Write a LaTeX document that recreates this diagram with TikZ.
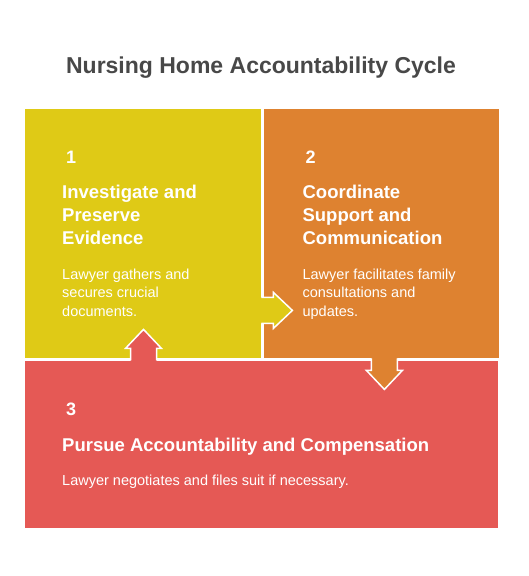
\documentclass[tikz,border=0pt]{standalone}
\usepackage{fontspec}
\setmainfont{Liberation Sans}
\usetikzlibrary{positioning}
\definecolor{yellowc}{HTML}{DFCA16}
\definecolor{orangec}{HTML}{DE8230}
\definecolor{redc}{HTML}{E55955}
\definecolor{titlec}{HTML}{484848}

\begin{document}
\begin{tikzpicture}[x=1pt, y=-1pt,
stepbox/.style = {rectangle, inner sep=0pt, anchor=north west},
numtext/.style = {anchor=base west, inner sep=0pt, text=white, font=\bfseries\fontsize{18}{22}\selectfont},
headtext/.style = {anchor=base west, inner sep=0pt, text=white, align=left, font=\bfseries\fontsize{18.5}{23}\selectfont},
bodytext/.style = {anchor=base west, inner sep=0pt, text=white, align=left, font=\fontsize{14.5}{18.5}\selectfont},
pics/blockarrow/.style = {code={
  \fill[#1] (-4,-13) -- (11,-13) -- (11,-18) -- (30,0) -- (11,18) -- (11,13) -- (-4,13) -- cycle;
  \draw[white, line width=1.5pt] (-1,-13) -- (11,-13) -- (11,-18) -- (30,0) -- (11,18) -- (11,13) -- (-1,13);
}}]
\fill[white] (0,0) rectangle (528,576);
\useasboundingbox (0,0) rectangle (528,576);

\node[anchor=base, text=titlec, font=\bfseries\fontsize{23}{28}\selectfont] (title) at (261,73) {Nursing Home Accountability Cycle};

% the three steps
\node[stepbox, fill=yellowc, minimum width=236, minimum height=249] (1) at (25,109) {};
\node[stepbox, fill=orangec, minimum width=235, minimum height=249, right=2pt of 1] (2) {};
\node[stepbox, fill=redc, minimum width=473, minimum height=167, below=2pt of 1.south west, anchor=north west] (3) {};

% (base of a block of lines = base of its last line)
\node[numtext] (n1) at ([shift={(41,54)}]1.north west) {1};
\node[headtext] (h1) at ([shift={(37,135)}]1.north west) {Investigate and\\Preserve\\Evidence};
\node[bodytext] (b1) at ([shift={(37,207)}]1.north west) {Lawyer gathers and\\secures crucial\\documents.};

\node[numtext] (n2) at ([shift={(42,54)}]2.north west) {2};
\node[headtext] (h2) at ([shift={(39,135)}]2.north west) {Coordinate\\Support and\\Communication};
\node[bodytext] (b2) at ([shift={(39,207)}]2.north west) {Lawyer facilitates family\\consultations and\\updates.};

\node[numtext] (n3) at ([shift={(41,55)}]3.north west) {3};
\node[headtext] (h3) at ([shift={(37,91)}]3.north west) {Pursue Accountability and Compensation};
\node[bodytext] (b3) at ([shift={(37,125)}]3.north west) {Lawyer negotiates and files suit if necessary.};

% arrows between the steps
\coordinate (a12) at ([shift={(1,-48)}]1.south east);
\coordinate (a23) at ([shift={(121,1)}]2.south west);
\coordinate (a31) at ([shift={(118.5,-1)}]3.north west);
\pic at (a12) {blockarrow=yellowc};
\pic[rotate=-90] at (a23) {blockarrow=orangec};
\pic[rotate=90] at (a31) {blockarrow=redc};
\end{tikzpicture}
\end{document}
